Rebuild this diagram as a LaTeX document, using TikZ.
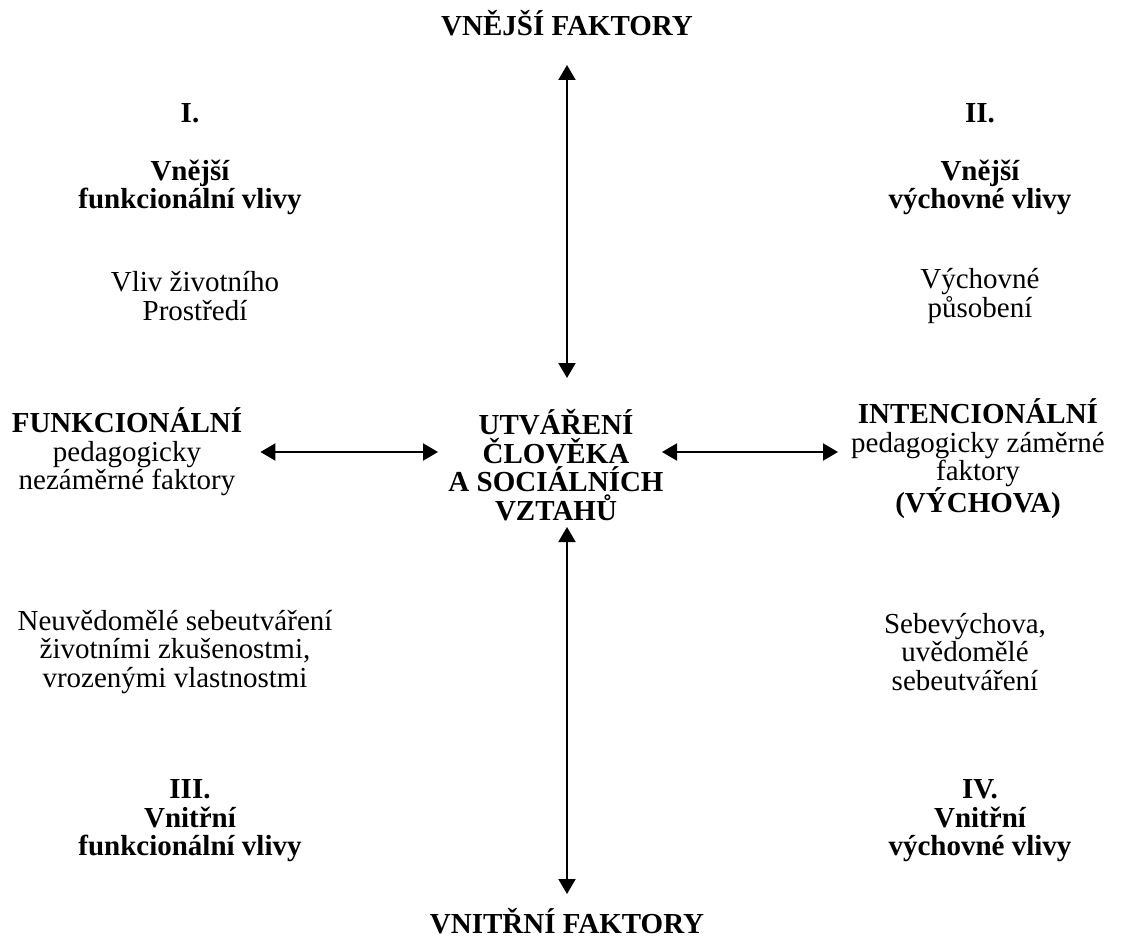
\documentclass[tikz,border=0pt]{standalone}
\usepackage{fontspec}
\setmainfont{Liberation Serif}
\usetikzlibrary{arrows.meta}

\begin{document}
\begin{tikzpicture}[x=1pt,y=-1pt,
    every node/.style={font=\fontsize{29}{28.5}\selectfont,align=center,inner sep=0pt},
    hd/.style={font=\fontsize{29}{28.5}\selectfont\bfseries},
    arr/.style={<->,>={Triangle[length=15pt,width=17pt]},line width=2pt}]
        \useasboundingbox (0,0) rectangle (1123,944);
        %% axis
        \node[hd] (vnejsi) at (567,23) {VNĚJŠÍ FAKTORY};
        \node[hd] (vnitrni) at (567,921) {VNITŘNÍ FAKTORY};
        \node[hd] (utvareni) at (556,465) {UTVÁŘENÍ\\ČLOVĚKA\\A SOCIÁLNÍCH\\VZTAHŮ};
        \node (funkc) at (127,452) {\textbf{FUNKCIONÁLNÍ}\\pedagogicky\\nezáměrné faktory};
        \node (intenc) at (978,459) {\textbf{INTENCIONÁLNÍ}\\pedagogicky záměrné\\faktory\\\textbf{(VÝCHOVA)}};
        \coordinate (hore) at (567,378);
        \coordinate (dole) at (567,527);
        \draw[arr] ([yshift=-42pt]vnejsi.center) -- (hore);
        \draw[arr] (dole) -- ([yshift=27pt]vnitrni.center);
        \draw[arr] ([xshift=18pt]funkc.east) -- ([xshift=-118pt]utvareni.center |- funkc.east);
        \draw[arr] ([xshift=106pt]utvareni.center |- funkc.east) -- ([xshift=-13pt]intenc.west |- funkc.east);
        %% upper quadrants
        \node[hd] (q1) at (190,113) {I.};
        \node[hd] (q1vlivy) at (190,187.5) {Vnější\\funkcionální vlivy};
        \node (q1text) at (195,296) {Vliv životního\\Prostředí};
        \node[hd] (q2) at (980,113) {II.};
        \node[hd] (q2vlivy) at (980,187.5) {Vnější\\výchovné vlivy};
        \node (q2text) at (980,296) {Výchovné\\působení};
        %% lower quadrants
        \node (q3text) at (175,652) {Neuvědomělé sebeutváření\\životními zkušenostmi,\\vrozenými vlastnostmi};
        \node (q4text) at (965,652) {Sebevýchova,\\uvědomělé\\sebeutváření};
        \node[hd] (q3) at (190,821) {III.\\Vnitřní\\funkcionální vlivy};
        \node[hd] (q4) at (980,821) {IV.\\Vnitřní\\výchovné vlivy};
    \end{tikzpicture}
\end{document}
